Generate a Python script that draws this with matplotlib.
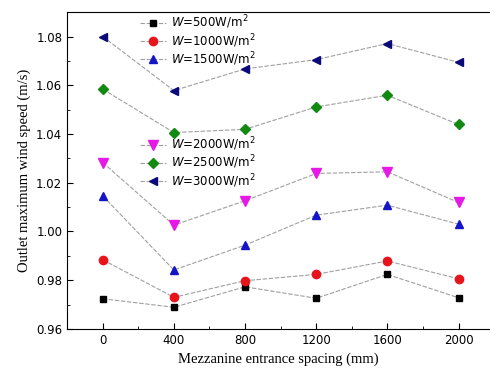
import numpy as np
import matplotlib.pyplot as plt
from matplotlib.ticker import MultipleLocator

spacing = [0, 400, 800, 1200, 1600, 2000]
w500 = [0.9724, 0.9689, 0.9773, 0.9726, 0.9824, 0.9728]
w1000 = [0.9884, 0.9730, 0.9798, 0.9824, 0.9879, 0.9806]
w1500 = [1.0146, 0.9842, 0.9944, 1.0067, 1.0108, 1.0030]
w2000 = [1.0283, 1.0026, 1.0126, 1.0238, 1.0245, 1.0119]
w2500 = [1.0584, 1.0406, 1.0419, 1.0511, 1.0559, 1.0439]
w3000 = [1.0800, 1.0578, 1.0667, 1.0705, 1.0771, 1.0694]
labels = ['500', '1000', '1500', '2000', '2500', '3000']

fig = plt.figure(figsize=(4.9, 3.79), dpi=100)
ax = fig.add_axes([0.137, 0.132, 0.863, 0.836])

series = [w500, w1000, w1500, w2000, w2500, w3000]
markers = ['s', 'o', '^', 'v', 'D', '<']
colors = ['#000000', '#e8141c', '#1414c8', '#e619e6', '#128a12', '#0a0a78']
msizes = [5, 6, 6, 7, 5, 6]
lines = []
for y, m, c, s, lab in zip(series, markers, colors, msizes, labels):
    l, = ax.plot(spacing, y, marker=m, color='#a0a0a0', ms=s, mfc=c, mec=c,
                 ls=(0, (4, 1.5)), lw=0.8,
                 label=r'$\it{W}$=' + lab + r'W/m$^2$')
    lines.append(l)

ax.set_xlim(-200, 2177)
ax.set_ylim(0.96, 1.09)
ax.set_xticks(spacing)
ax.set_yticks([0.96, 0.98, 1.00, 1.02, 1.04, 1.06, 1.08])
ax.yaxis.set_major_formatter(plt.FuncFormatter('{:.2f}'.format))
ax.xaxis.set_minor_locator(MultipleLocator(200))
ax.yaxis.set_minor_locator(MultipleLocator(0.01))
ax.tick_params(which='both', direction='in', labelsize=8.5, top=False, right=False)
ax.tick_params(which='major', length=4)
ax.tick_params(which='minor', length=2)
ax.spines['right'].set_visible(False)

ax.set_xlabel('Mezzanine entrance spacing (mm)', family='Liberation Serif', fontsize=10.5)
ax.set_ylabel('Outlet maximum wind speed (m/s)', family='Liberation Serif', fontsize=10.5)

leg_kw = dict(loc='upper left', frameon=False, fontsize=8.5, handlelength=2.2,
              labelspacing=0.05, handletextpad=0.4, borderaxespad=0, borderpad=0)
leg1 = ax.legend(handles=lines[:3], bbox_to_anchor=(0.172, 0.995), **leg_kw)
ax.add_artist(leg1)
ax.legend(handles=lines[3:], bbox_to_anchor=(0.172, 0.61), **leg_kw)

fig.savefig('out.png', dpi=100)
